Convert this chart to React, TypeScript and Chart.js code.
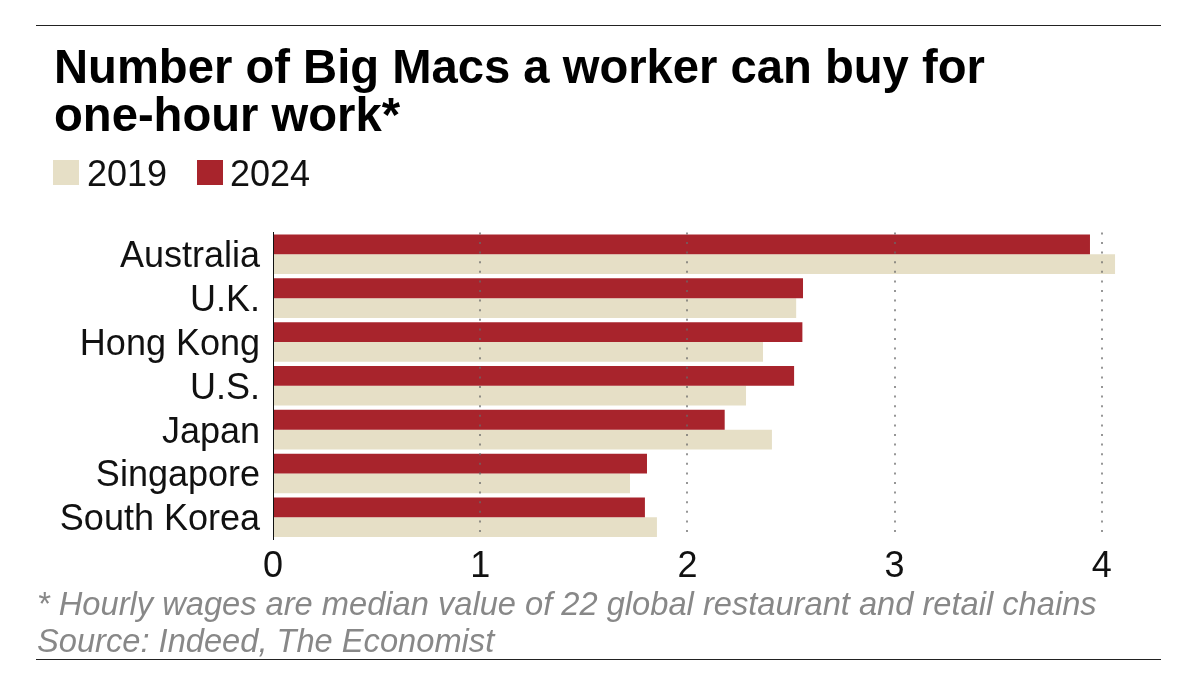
import { useEffect, useRef } from "react"
import { Chart, registerables } from "chart.js"

Chart.register(...registerables)

const countries = ["Australia", "U.K.", "Hong Kong", "U.S.", "Japan", "Singapore", "South Korea"]
const values2024 = [3.943, 2.558, 2.555, 2.515, 2.18, 1.805, 1.795]
const values2019 = [4.064, 2.525, 2.365, 2.283, 2.408, 1.723, 1.853]
const xTicks = [0, 1, 2, 3, 4]

const RED = "#A8242C"
const BEIGE = "#E6DFC6"
const FONT = '"Liberation Sans", Arial, sans-serif'

const titleLines = ["Number of Big Macs a worker can buy for", "one-hour work*"]
const footLines = [
  "* Hourly wages are median value of 22 global restaurant and retail chains",
  "Source: Indeed, The Economist",
]

function Swatch({ left, color }: { left: number; color: string }) {
  return <div style={{ position: "absolute", left, top: 160, width: 26, height: 25, background: color }} />
}

function Label({ left, text }: { left: number; text: string }) {
  return (
    <div style={{ position: "absolute", left, top: 153, fontSize: 36, lineHeight: "41px", color: "#111" }}>{text}</div>
  )
}

export default function App() {
  const chartRef = useRef<HTMLCanvasElement>(null)

  useEffect(() => {
    if (!chartRef.current) return
    document.body.style.margin = "0"
    document.body.style.background = "#fff"

    const chart = new Chart(chartRef.current, {
      type: "bar",
      data: {
        labels: countries,
        datasets: [
          { label: "2024", data: values2024, backgroundColor: RED, borderWidth: 0 },
          { label: "2019", data: values2019, backgroundColor: BEIGE, borderWidth: 0 },
        ],
      },
      options: {
        indexAxis: "y",
        responsive: false,
        animation: false,
        layout: { padding: { top: 232.4, bottom: 105.8, left: 54, right: 0 } },
        datasets: { bar: { categoryPercentage: 0.904, barPercentage: 1 } },
        plugins: { legend: { display: false }, title: { display: false }, tooltip: { enabled: false } },
        scales: {
          x: {
            min: 0,
            max: 4.474,
            // only whole numbers, the scale would add its max as a tick otherwise
            afterBuildTicks: (scale) => {
              scale.ticks = xTicks.map((value) => ({ value }))
            },
            afterFit: (scale) => {
              scale.height = 40
            },
            ticks: {
              autoSkip: false,
              maxRotation: 0,
              padding: 6,
              color: "#111",
              font: { family: FONT, size: 36 },
            },
            border: { display: false, dash: [2, 7.6] },
            grid: {
              z: 1,
              drawTicks: false,
              lineWidth: 2,
              color: (ctx) => (ctx.tick && ctx.tick.value > 0 ? "rgba(105,105,105,0.7)" : "rgba(0,0,0,0)"),
            },
          },
          y: {
            afterFit: (scale) => {
              scale.width = 219
            },
            ticks: {
              autoSkip: false,
              padding: 13,
              labelOffset: 3,
              color: "#111",
              font: { family: FONT, size: 36 },
            },
            border: { display: true, color: "#111", width: 1, z: 1 },
            grid: { display: false, drawTicks: false },
          },
        },
      },
    })

    return () => chart.destroy()
  }, [])

  return (
    <div style={{ position: "absolute", left: 0, top: 0, width: 1200, height: 685, background: "#fff", fontFamily: FONT }}>
      <canvas ref={chartRef} width={1200} height={685} style={{ position: "absolute", left: 0, top: 0, display: "block" }} />
      <div style={{ position: "absolute", left: 36, top: 25, width: 1125, height: 1, background: "#222" }} />
      <div style={{ position: "absolute", left: 36, top: 659, width: 1125, height: 1, background: "#222" }} />
      <div style={{ position: "absolute", left: 54, top: 43, fontSize: 47.2, lineHeight: "48px", fontWeight: 700, color: "#000", whiteSpace: "nowrap" }}>
        {titleLines.map((t) => (
          <div key={t}>{t}</div>
        ))}
      </div>
      <Swatch left={53} color={BEIGE} />
      <Label left={87} text="2019" />
      <Swatch left={197} color={RED} />
      <Label left={230} text="2024" />
      <div style={{ position: "absolute", left: 37, top: 586, fontSize: 32.65, lineHeight: "36.5px", fontStyle: "italic", color: "#888", whiteSpace: "nowrap" }}>
        {footLines.map((t) => (
          <div key={t}>{t}</div>
        ))}
      </div>
    </div>
  )
}
